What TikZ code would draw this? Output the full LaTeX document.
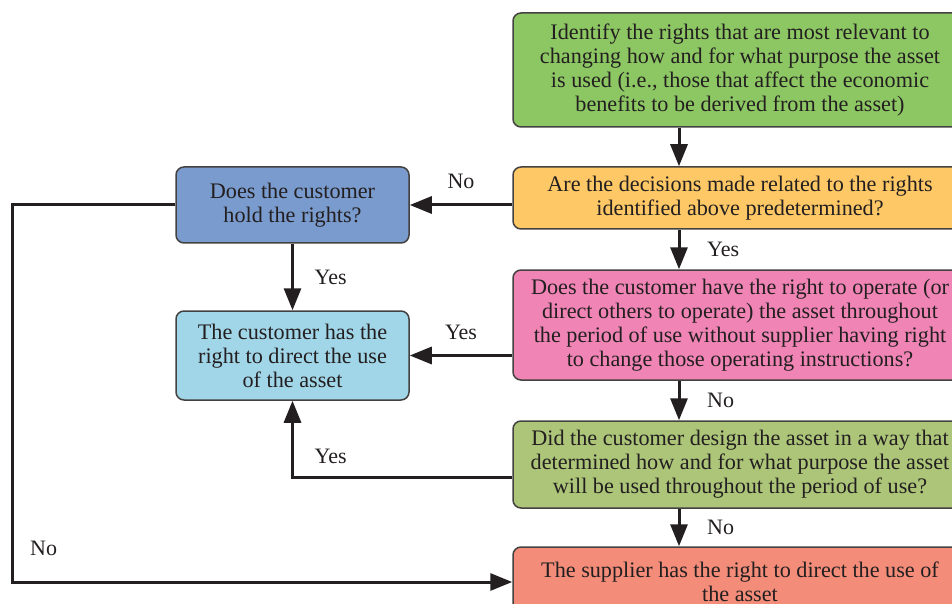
\documentclass[tikz,border=0pt]{standalone}
\usepackage{fontspec}
\setmainfont{Liberation Serif}
\usepackage{tikz}
\usetikzlibrary{arrows.meta,positioning,calc}
\definecolor{idgreen}{RGB}{141,199,99}
\definecolor{askorange}{RGB}{253,200,101}
\definecolor{askpink}{RGB}{240,133,181}
\definecolor{askolive}{RGB}{172,197,120}
\definecolor{endsalmon}{RGB}{243,140,121}
\definecolor{askblue}{RGB}{122,155,205}
\definecolor{endcyan}{RGB}{161,214,232}
\definecolor{inkgray}{RGB}{35,31,32}

\begin{document}
\begin{tikzpicture}[
      x=0.5pt, y=-0.5pt,
      box/.style={rectangle, draw=inkgray!85, line width=0.75pt, rounded corners=4pt,
                  align=center, text=inkgray,
                  font=\fontsize{11.1}{12}\selectfont},
      widebox/.style={box, minimum width=227pt},
      sidebox/.style={box, minimum width=116.5pt},
      arrow/.style={-{Triangle[length=11pt,width=8.5pt]}, line width=1.5pt, color=inkgray},
      lbl/.style={font=\fontsize{11}{12}\selectfont, text=inkgray}
    ]
      \path[use as bounding box, clip] (0,0) rectangle (952,604);
      %% main column
      \node[widebox, fill=idgreen, minimum height=57pt] (ident) at (740,70)
          {Identify the rights that are most relevant to\\
           changing how and for what purpose the asset\\
           is used (i.e., those that affect the economic\\
           benefits to be derived from the asset)};
      \node[widebox, fill=askorange, minimum height=31pt] (decide) at (740,198)
          {Are the decisions made related to the rights\\
           identified above predetermined?};
      \node[widebox, fill=askpink, minimum height=55pt] (operate) at (740,325)
          {Does the customer have the right to operate (or\\
           direct others to operate) the asset throughout\\
           the period of use without supplier having right\\
           to change those operating instructions?};
      \node[widebox, fill=askolive, minimum height=43.5pt] (design) at (740,464.5)
          {Did the customer design the asset in a way that\\
           determined how and for what purpose the asset\\
           will be used throughout the period of use?};
      \node[widebox, fill=endsalmon, minimum height=35pt] (supplier) at (740,582)
          {The supplier has the right to direct the use of\\
           the asset};
      %% side column
      \node[sidebox, fill=askblue, minimum height=38pt] (hold) at (292.5,205)
          {Does the customer\\ hold the rights?};
      \node[sidebox, fill=endcyan, minimum height=44.5pt] (direct) at (292.5,355.5)
          {The customer has the\\ right to direct the use\\ of the asset};
      \coordinate (spine) at (679,0);
      \coordinate (lside) at (12,0);
      %% down the main column
      \draw[arrow] (ident.south -| spine) -- (decide.north -| spine);
      \draw[arrow] (decide.south -| spine) -- (operate.north -| spine)
          node[midway, lbl, right=10pt] {Yes};
      \draw[arrow] (operate.south -| spine) -- (design.north -| spine)
          node[midway, lbl, right=10pt] {No};
      \draw[arrow] (design.south -| spine) -- (supplier.north -| spine)
          node[midway, lbl, right=10pt] {No};
      %% across to the side column
      \draw[arrow] (decide.west |- hold.east) -- (hold.east)
          node[midway, lbl, above=4pt] {No};
      \draw[arrow] (operate.west |- direct.east) -- (direct.east)
          node[midway, lbl, above=4pt] {Yes};
      \draw[arrow] (hold.south) -- (direct.north)
          node[midway, lbl, right=7pt] {Yes};
      \draw[arrow] ($(design.west)+(0,13)$) -| (direct.south)
          node[pos=0.5, lbl, anchor=south west, xshift=7pt, yshift=3pt] {Yes};
      \draw[arrow] (hold.west) -| (lside |- supplier.west)
          node[lbl, anchor=south west, xshift=5pt, yshift=9pt] {No}
          -- (supplier.west);
    \end{tikzpicture}
\end{document}
